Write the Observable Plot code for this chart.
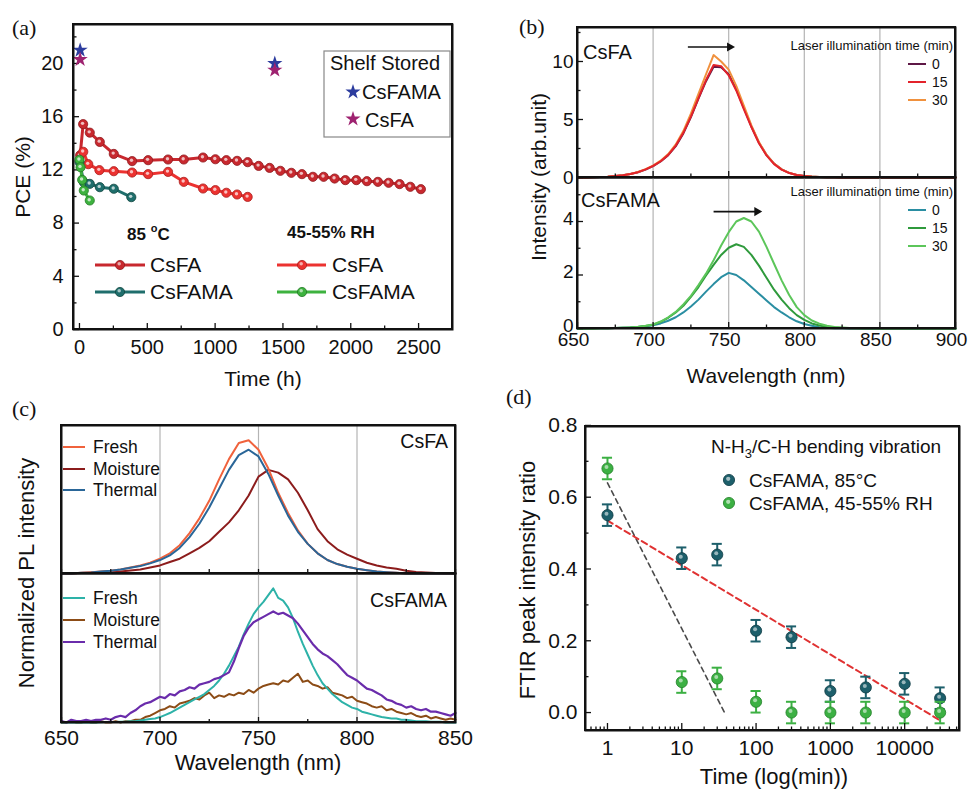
<!DOCTYPE html>
<html><head><meta charset="utf-8">
<script src="https://cdn.jsdelivr.net/npm/d3@7"></script>
<script src="https://cdn.jsdelivr.net/npm/@observablehq/plot@0.6"></script>
<style>
html,body{margin:0;padding:0;background:#fff;}
#root{position:relative;width:968px;height:790px;overflow:hidden;background:#fff;}
</style></head><body><div id="root"></div>
<script>
const FONT = "'Liberation Sans', Arial, Helvetica, sans-serif";
const SERIF = "'Liberation Serif', 'Times New Roman', serif";
const root = document.getElementById("root");

// ---------------- Panel (a) data ----------------
const tCsFA85 = [5, 27, 76, 150, 253, 388, 506, 653, 769, 911, 1002, 1083, 1162, 1240, 1321, 1402, 1481, 1562, 1640, 1721, 1800, 1881, 1960, 2041, 2119, 2200, 2279, 2360, 2439, 2517];
const pceCsFA85 = [13.1, 15.44, 14.8, 14.1, 13.2, 12.66, 12.73, 12.78, 12.78, 12.93, 12.8, 12.73, 12.68, 12.58, 12.3, 12.15, 11.93, 11.78, 11.68, 11.48, 11.48, 11.35, 11.23, 11.23, 11.15, 11.1, 11.03, 10.93, 10.73, 10.55];
const tCsFARH = [28, 65, 147, 253, 388, 506, 653, 769, 911, 1002, 1083, 1162, 1240];
const pceCsFARH = [13.36, 12.43, 11.98, 11.9, 11.8, 11.68, 11.85, 11.1, 10.6, 10.48, 10.28, 10.15, 9.97];
const tCsFAMA85 = [0, 32, 76, 150, 253, 382];
const pceCsFAMA85 = [12.6, 11.07, 10.95, 10.7, 10.58, 9.95];
const tCsFAMARH = [0, 8, 20, 32, 76];
const pceCsFAMARH = [12.76, 12.2, 11.25, 10.45, 9.7];
const tShelf = [5, 1440];
const shelfCsFAMA = [21.0, 20.0];
const shelfCsFA = [20.3, 19.5];
const ticksAx = [0, 500, 1000, 1500, 2000, 2500];
const minorAx = [250, 750, 1250, 1750, 2250];
const ticksAy = [0, 4, 8, 12, 16, 20];
const minorAy = [2, 6, 10, 14, 18, 22];

// ---------------- Panel (b) data ----------------
const wlB = [650,655,660,665,670,675,680,685,690,695,700,705,710,715,720,725,730,735,740,745,750,755,760,765,770,775,780,785,790,795,800,805,810,815,820,825,830,835,840,845,850,855,860,865,870,875,880,885,890,895,900];
const bCsFA0 = [0,0.01,0.02,0.04,0.07,0.12,0.2,0.3,0.45,0.68,
  0.98,1.38,1.92,2.7,3.8,5.2,6.8,8.3,9.55,9.5,
  8.9,7.6,6.0,4.4,3.0,1.95,1.2,0.7,0.4,0.22,
  0.13,0.08,0.05,0.03,0.02,0.01,0.01,0,0,0,
  0,0,0,0,0,0,0,0,0,0,0];
const bCsFA15 = [0,0.01,0.02,0.04,0.07,0.12,0.2,0.31,0.46,0.7,
  1.0,1.4,1.95,2.75,3.85,5.25,6.85,8.4,9.7,9.6,
  8.8,7.5,5.9,4.35,2.95,1.9,1.15,0.68,0.38,0.21,
  0.12,0.07,0.04,0.03,0.02,0.01,0.01,0,0,0,
  0,0,0,0,0,0,0,0,0,0,0];
const bCsFA30 = [0,0.01,0.02,0.04,0.07,0.12,0.2,0.31,0.47,0.72,
  1.02,1.45,2.02,2.85,4.0,5.5,7.2,8.9,10.55,10.0,
  9.3,7.9,6.2,4.5,3.05,1.95,1.2,0.7,0.4,0.22,
  0.13,0.08,0.05,0.03,0.02,0.01,0.01,0,0,0,
  0,0,0,0,0,0,0,0,0,0,0];
const bCsFAMA0 = [0,0,0.005,0.007,0.01,0.02,0.03,0.04,0.06,0.085,
  0.12,0.19,0.29,0.42,0.6,0.82,1.08,1.38,1.66,1.92,
  2.08,2.0,1.8,1.55,1.3,1.05,0.8,0.6,0.42,0.27,
  0.17,0.1,0.05,0.025,0.01,0.005,0,0,0,0,
  0,0,0,0,0,0,0,0,0,0,0];
const bCsFAMA15 = [0,0,0.003,0.005,0.01,0.015,0.025,0.04,0.06,0.095,
  0.14,0.25,0.4,0.6,0.85,1.18,1.55,1.98,2.38,2.75,
  3.02,3.15,3.05,2.75,2.35,1.9,1.45,1.08,0.76,0.5,
  0.32,0.19,0.11,0.06,0.04,0.02,0.01,0.005,0,0,
  0,0,0,0,0,0,0,0,0,0,0];
const bCsFAMA30 = [0,0,0.003,0.005,0.01,0.015,0.025,0.04,0.065,0.1,
  0.15,0.26,0.42,0.62,0.9,1.22,1.62,2.05,2.55,3.1,
  3.6,4.0,4.13,4.0,3.62,3.05,2.42,1.8,1.25,0.8,
  0.5,0.3,0.18,0.1,0.06,0.04,0.02,0.01,0.01,0.005,
  0,0,0,0,0,0,0,0,0,0,0];
const ticksBx = [650, 700, 750, 800, 850, 900];
const minorBx = [675, 725, 775, 825, 875];
const gridB = [700, 750, 800, 850];
const ticksBupY = [0, 5, 10];
const minorBupY = [2.5, 7.5, 12.5];
const ticksBloY = [0, 2, 4];
const minorBloY = [1, 3, 5];
const arrowBup = [{x1: 723, x2: 752, y: 11.25}];
const arrowBlo = [{x1: 740, x2: 770, y: 4.37}];

// ---------------- Panel (c) data ----------------
const wlC = [650,655,660,665,670,675,680,685,690,695,700,705,710,715,720,725,730,735,740,745,750,755,760,765,770,775,780,785,790,795,800,805,810,815,820,825,830,835,840,845,850];
const cFreshFA = [0,0,0.005,0.01,0.015,0.02,0.03,0.045,0.06,0.08,
  0.11,0.15,0.21,0.3,0.41,0.54,0.7,0.85,0.97,0.99,
  0.92,0.78,0.6,0.45,0.32,0.22,0.15,0.1,0.07,0.05,
  0.035,0.025,0.015,0.01,0.005,0,0,0,0,0,0];
const cThermalFA = [0,0,0.005,0.008,0.015,0.02,0.03,0.042,0.055,0.075,
  0.1,0.135,0.19,0.27,0.37,0.49,0.63,0.77,0.88,0.92,
  0.87,0.74,0.58,0.43,0.31,0.22,0.15,0.1,0.07,0.05,
  0.035,0.025,0.015,0.01,0.005,0,0,0,0,0,0];
const cMoistFA = [0,0,0.004,0.006,0.008,0.01,0.015,0.022,0.03,0.045,
  0.06,0.085,0.11,0.15,0.19,0.24,0.31,0.38,0.47,0.58,
  0.72,0.77,0.75,0.7,0.6,0.47,0.33,0.24,0.18,0.14,
  0.11,0.08,0.06,0.045,0.035,0.02,0.012,0.008,0.004,0.002,0];
const wlCf = [650,652.5,655,657.5,660,662.5,665,667.5,670,672.5,675,677.5,680,682.5,685,687.5,690,692.5,695,697.5,
  700,702.5,705,707.5,710,712.5,715,717.5,720,722.5,725,727.5,730,732.5,735,737.5,740,742.5,745,747.5,
  750,752.5,755,757.5,760,762.5,765,767.5,770,772.5,775,777.5,780,782.5,785,787.5,790,792.5,795,797.5,
  800,802.5,805,807.5,810,812.5,815,817.5,820,822.5,825,827.5,830,832.5,835,837.5,840,842.5,845,847.5,850];
const cFreshFAMA = [0,0,0,0,0,0,0,0,0.002,0.003,
  0.003,0.004,0.005,0.005,0.01,0.01,0.015,0.02,0.025,0.03,
  0.04,0.055,0.07,0.09,0.11,0.13,0.15,0.17,0.19,0.21,
  0.24,0.27,0.31,0.36,0.42,0.49,0.56,0.65,0.73,0.8,
  0.85,0.89,0.94,0.99,0.92,0.9,0.85,0.77,0.67,0.58,
  0.5,0.42,0.35,0.29,0.25,0.21,0.18,0.15,0.13,0.11,
  0.1,0.08,0.07,0.06,0.05,0.04,0.035,0.03,0.03,0.02,
  0.02,0.015,0.01,0.01,0.01,0.005,0.005,0.005,0,0,0];
const cThermalFAMA = [0.01,0,0.02,0.01,0.01,0.02,0.01,0.02,0.02,0.03,
  0.02,0.04,0.05,0.04,0.07,0.09,0.12,0.14,0.15,0.17,
  0.19,0.18,0.21,0.2,0.23,0.24,0.26,0.25,0.28,0.29,
  0.3,0.32,0.33,0.35,0.37,0.45,0.55,0.64,0.7,0.74,
  0.76,0.78,0.8,0.82,0.8,0.81,0.79,0.77,0.73,0.68,
  0.63,0.58,0.54,0.51,0.49,0.46,0.43,0.39,0.35,0.33,
  0.31,0.28,0.25,0.24,0.22,0.2,0.17,0.16,0.14,0.13,
  0.11,0.12,0.1,0.09,0.1,0.08,0.08,0.07,0.06,0.05,0.07];
const cMoistFAMA = [0,0,0.01,0,0,0.01,0,0,0.01,0,
  0,0.01,0,0.01,0.01,0.02,0.02,0.04,0.05,0.07,
  0.09,0.1,0.12,0.11,0.14,0.15,0.16,0.18,0.17,0.2,
  0.22,0.18,0.2,0.19,0.21,0.2,0.22,0.21,0.24,0.22,
  0.25,0.27,0.28,0.29,0.28,0.31,0.3,0.33,0.36,0.3,
  0.31,0.28,0.27,0.25,0.26,0.22,0.21,0.2,0.18,0.19,
  0.16,0.15,0.14,0.12,0.11,0.12,0.09,0.1,0.08,0.07,
  0.06,0.07,0.05,0.04,0.05,0.03,0.04,0.03,0.02,0.03,0.02];
const ticksCx = [650, 700, 750, 800, 850];
const minorCx = [675, 725, 775, 825];
const gridC = [700, 750, 800];

// ---------------- Panel (d) data ----------------
const timeMin = [1, 10, 30, 100, 300, 1000, 3000, 10000, 30000];
const ratio85 = [0.55, 0.43, 0.44, 0.228, 0.21, 0.06, 0.07, 0.08, 0.04];
const err85 = [0.03, 0.03, 0.03, 0.03, 0.03, 0.03, 0.03, 0.03, 0.03];
const ratioRH = [0.68, 0.085, 0.095, 0.03, 0.0, 0.0, 0.0, 0.0, 0.0];
const errRH = [0.03, 0.03, 0.03, 0.03, 0.03, 0.03, 0.03, 0.03, 0.03];
const fitRedT = [1, 30000], fitRedV = [0.535, -0.022];
const fitGreyT = [1, 37.6], fitGreyV = [0.64, 0.0];
const ticksDx = [1, 10, 100, 1000, 10000];
const ticksDy = [0, 0.2, 0.4, 0.6, 0.8];
const minorDy = [0.1, 0.3, 0.5, 0.7];

// ---------------- helpers ----------------
const zipRows = (xs, ys, extra = {}) => xs.map((x, i) => ({x, y: ys[i], ...Object.fromEntries(Object.entries(extra).map(([k, a]) => [k, a[i]]))}));

function panel(f, {x, y, marks, fontSize = 20, ml = 70, mr = 20, mt = 20, mb = 60}) {
  const svg = Plot.plot({
    width: (f.x1 - f.x0) + ml + mr, height: (f.y1 - f.y0) + mt + mb,
    marginLeft: ml, marginRight: mr, marginTop: mt, marginBottom: mb,
    x: {axis: null, ...x}, y: {axis: null, ...y},
    style: {fontFamily: FONT, fontSize: fontSize + "px", color: "#111", background: "transparent", overflow: "visible"},
    marks: [...marks, Plot.frame({stroke: "#111", strokeWidth: 2})]
  });
  svg.style.position = "absolute";
  svg.style.left = (f.x0 - ml) + "px";
  svg.style.top = (f.y0 - mt) + "px";
  root.appendChild(svg);
}
const tB = (vals, f, len) => Plot.tickX(vals, {x: d => d, insetTop: (f.y1 - f.y0) - len, stroke: "#111", strokeWidth: 1.3});
const tL = (vals, f, len) => Plot.tickY(vals, {y: d => d, insetRight: (f.x1 - f.x0) - len, stroke: "#111", strokeWidth: 1.3});
const arrowMarks = (data) => [
  Plot.link(data, {x1: "x1", x2: d => d.x2 - 1.5, y1: "y", y2: "y", stroke: "#111", strokeWidth: 1.6}),
  Plot.dot(data, {x: "x2", y: "y", symbol: "triangle", rotate: 90, r: 3.4, fill: "#111", dx: -2})
];

// ---------------- Panel (a) ----------------
const fA = {x0: 73, x1: 452, y0: 24, y1: 329};
const seriesA = [
  {rows: zipRows(tCsFA85, pceCsFA85), c: "#c8282e", s: "#8e1a1e"},
  {rows: zipRows(tCsFARH, pceCsFARH), c: "#ec3230", s: "#a8201e"},
  {rows: zipRows(tCsFAMA85, pceCsFAMA85), c: "#1f6e6c", s: "#11463f"},
  {rows: zipRows(tCsFAMARH, pceCsFAMARH), c: "#3db23f", s: "#237a25"}
];
const marksA = [tB(ticksAx, fA, 6), tB(minorAx, fA, 3.5), tL(ticksAy, fA, 6), tL(minorAy, fA, 3.5)];
for (const s of seriesA) {
  marksA.push(Plot.line(s.rows, {x: "x", y: "y", stroke: s.c, strokeWidth: 3}));
  marksA.push(Plot.dot(s.rows, {x: "x", y: "y", r: 4.6, fill: s.c, stroke: s.s, strokeWidth: 0.8}));
  marksA.push(Plot.dot(s.rows, {x: "x", y: "y", r: 1.7, fill: "#fff", fillOpacity: 0.7, dx: -0.6, dy: -0.8}));
}
marksA.push(Plot.dot(zipRows(tShelf, shelfCsFAMA), {x: "x", y: "y", symbol: "star", r: 4.8, fill: "#2c3c9e"}));
marksA.push(Plot.dot(zipRows(tShelf, shelfCsFA), {x: "x", y: "y", symbol: "star", r: 4.8, fill: "#9e2270"}));
marksA.push(Plot.axisX({ticks: ticksAx, tickSize: 0, tickPadding: 10, tickFormat: d => String(d), label: null}));
marksA.push(Plot.axisY({ticks: ticksAy, tickSize: 0, tickPadding: 10, tickFormat: d => String(d), label: null}));
panel(fA, {x: {domain: [-44, 2750]}, y: {domain: [0, 22.93]}, marks: marksA, fontSize: 20});

// ---------------- Panel (b) ----------------
const fBu = {x0: 577, x1: 955, y0: 27, y1: 177};
const fBl = {x0: 577, x1: 955, y0: 177, y1: 328};
const specB = (arr) => zipRows(wlB, arr);
panel(fBu, {
  x: {domain: [650, 900]}, y: {domain: [0, 12.93]}, fontSize: 19, mb: 20,
  marks: [
    Plot.ruleX(gridB, {x: d => d, stroke: "#b4b4b4", strokeWidth: 1.2}),
    Plot.line(specB(bCsFA0), {x: "x", y: "y", stroke: "#5e1846", strokeWidth: 2}),
    Plot.line(specB(bCsFA30), {x: "x", y: "y", stroke: "#f0913e", strokeWidth: 2}),
    Plot.line(specB(bCsFA15), {x: "x", y: "y", stroke: "#e3232b", strokeWidth: 2}),
    ...arrowMarks(arrowBup),
    tB(ticksBx, fBu, 6), tB(minorBx, fBu, 3.5), tL(ticksBupY, fBu, 6), tL(minorBupY, fBu, 3.5),
    Plot.axisY({ticks: ticksBupY, tickSize: 0, tickPadding: 4, tickFormat: d => String(d), label: null})
  ]
});
panel(fBl, {
  x: {domain: [650, 900]}, y: {domain: [0, 5.645]}, fontSize: 19, mt: 20,
  marks: [
    Plot.ruleX(gridB, {x: d => d, stroke: "#b4b4b4", strokeWidth: 1.2}),
    Plot.line(specB(bCsFAMA0), {x: "x", y: "y", stroke: "#2a8ea2", strokeWidth: 2}),
    Plot.line(specB(bCsFAMA15), {x: "x", y: "y", stroke: "#2f9a3c", strokeWidth: 2}),
    Plot.line(specB(bCsFAMA30), {x: "x", y: "y", stroke: "#5cc65a", strokeWidth: 2}),
    ...arrowMarks(arrowBlo),
    tB(ticksBx, fBl, 6), tB(minorBx, fBl, 3.5), tL(ticksBloY, fBl, 6), tL(minorBloY, fBl, 3.5),
    Plot.axisX({ticks: ticksBx, tickSize: 0, tickPadding: 4, dx: -4, tickFormat: d => String(d), label: null}),
    Plot.axisY({ticks: ticksBloY, tickSize: 0, tickPadding: 4, dy: -3, tickFormat: d => String(d), label: null})
  ]
});

// ---------------- Panel (c) ----------------
const fCu = {x0: 61, x1: 455, y0: 425, y1: 573};
const fCl = {x0: 61, x1: 455, y0: 573, y1: 722};
panel(fCu, {
  x: {domain: [650, 850]}, y: {domain: [0, 1.1]}, fontSize: 21, mb: 20, ml: 30,
  marks: [
    Plot.ruleX(gridC, {x: d => d, stroke: "#b4b4b4", strokeWidth: 1.2}),
    Plot.line(zipRows(wlC, cMoistFA), {x: "x", y: "y", stroke: "#8c1c1c", strokeWidth: 2}),
    Plot.line(zipRows(wlC, cFreshFA), {x: "x", y: "y", stroke: "#f0623c", strokeWidth: 2}),
    Plot.line(zipRows(wlC, cThermalFA), {x: "x", y: "y", stroke: "#2a6698", strokeWidth: 2}),
    tB(minorCx, fCu, 4), tB(ticksCx, fCu, 4)
  ]
});
panel(fCl, {
  x: {domain: [650, 850]}, y: {domain: [0, 1.1]}, fontSize: 21, mt: 20, ml: 30,
  marks: [
    Plot.ruleX(gridC, {x: d => d, stroke: "#b4b4b4", strokeWidth: 1.2}),
    Plot.line(zipRows(wlCf, cMoistFAMA), {x: "x", y: "y", stroke: "#8c4c16", strokeWidth: 2}),
    Plot.line(zipRows(wlCf, cFreshFAMA), {x: "x", y: "y", stroke: "#2db2a8", strokeWidth: 2}),
    Plot.line(zipRows(wlCf, cThermalFAMA), {x: "x", y: "y", stroke: "#6a2cab", strokeWidth: 2.2}),
    tB(ticksCx, fCl, 5), tB(minorCx, fCl, 3),
    Plot.axisX({ticks: ticksCx, tickSize: 0, tickPadding: 8, tickFormat: d => String(d), label: null})
  ]
});

// ---------------- Panel (d) ----------------
const fD = {x0: 585, x1: 959, y0: 426, y1: 730};
const minorDx = [];
for (const k of [0.1, 1, 10, 100, 1000, 10000]) for (let m = 2; m <= 9; m++) { const v = m * k; if (v > 0.51 && v < 54000) minorDx.push(v); }
const rows85 = zipRows(timeMin, ratio85, {e: err85});
const rowsRH = zipRows(timeMin, ratioRH, {e: errRH});
const capK = 1.17;
const errMarks = (rows, c) => [
  Plot.ruleX(rows, {x: "x", y1: d => d.y - d.e, y2: d => d.y + d.e, stroke: c, strokeWidth: 2}),
  Plot.ruleY(rows, {y: d => d.y + d.e, x1: d => d.x / capK, x2: d => d.x * capK, stroke: c, strokeWidth: 2}),
  Plot.ruleY(rows, {y: d => d.y - d.e, x1: d => d.x / capK, x2: d => d.x * capK, stroke: c, strokeWidth: 2})
];
const dotMarks = (rows, c, s) => [
  Plot.dot(rows, {x: "x", y: "y", r: 5.6, fill: c, stroke: s, strokeWidth: 0.8}),
  Plot.dot(rows, {x: "x", y: "y", r: 2, fill: "#fff", fillOpacity: 0.55, dx: -1, dy: -1.5})
];
panel(fD, {
  x: {type: "log", domain: [0.506, 54700]}, y: {domain: [-0.05, 0.797]}, fontSize: 21,
  marks: [
    Plot.line(zipRows(fitGreyT, fitGreyV), {x: "x", y: "y", stroke: "#4a4a4a", strokeWidth: 1.6, strokeDasharray: "5,4"}),
    Plot.line(zipRows(fitRedT, fitRedV), {x: "x", y: "y", stroke: "#e03232", strokeWidth: 2, strokeDasharray: "6,4"}),
    ...errMarks(rows85, "#1d5f6b"), ...dotMarks(rows85, "#1d5f6b", "#0e3a42"),
    ...errMarks(rowsRH, "#3cb043"), ...dotMarks(rowsRH, "#3cb043", "#23802a"),
    tB(ticksDx, fD, 7), tB(minorDx, fD, 3.5), tL(ticksDy, fD, 6), tL(minorDy, fD, 3.5),
    Plot.axisX({ticks: ticksDx, tickSize: 0, tickPadding: 10, tickFormat: d => String(d), label: null}),
    Plot.axisY({ticks: ticksDy, tickSize: 0, tickPadding: 8, tickFormat: d => d.toFixed(1), label: null})
  ]
});

// ---------------- overlay text, frames & legends ----------------
const ov = d3.select(root).append("svg").attr("width", 968).attr("height", 790)
  .style("position", "absolute").style("left", "0px").style("top", "0px").style("overflow", "visible");
function txt(s, x, y, o = {}) {
  const t = ov.append("text").attr("x", x).attr("y", y)
    .attr("font-family", o.family || FONT).attr("font-size", o.size || 18)
    .attr("text-anchor", o.anchor || "start").attr("fill", o.fill || "#111");
  if (o.weight) t.attr("font-weight", o.weight);
  if (o.rotate) t.attr("transform", `rotate(${o.rotate},${x},${y})`);
  if (o.dy) t.attr("dy", o.dy);
  if (s !== null) t.text(s);
  return t;
}
const boxOv = (x0, y0, x1, y1) => ov.append("rect").attr("x", x0).attr("y", y0).attr("width", x1 - x0).attr("height", y1 - y0).attr("fill", "none").attr("stroke", "#111").attr("stroke-width", 2);
boxOv(fA.x0, fA.y0, fA.x1, fA.y1);
boxOv(fBu.x0, fBu.y0, fBl.x1, fBl.y1);
boxOv(fCu.x0, fCu.y0, fCl.x1, fCl.y1);
boxOv(fD.x0, fD.y0, fD.x1, fD.y1);
const lineSw = (x1, x2, y, c, w = 2) => ov.append("line").attr("x1", x1).attr("x2", x2).attr("y1", y).attr("y2", y).attr("stroke", c).attr("stroke-width", w);
lineSw(fBu.x0, fBu.x1, fBu.y1, "#111", 2);
lineSw(fCu.x0, fCu.x1, fCu.y1, "#111", 2);
const ball = (x, y, r, c, s) => {
  ov.append("circle").attr("cx", x).attr("cy", y).attr("r", r).attr("fill", c).attr("stroke", s).attr("stroke-width", 0.8);
  ov.append("circle").attr("cx", x - 0.8).attr("cy", y - 1.2).attr("r", r * 0.38).attr("fill", "#fff").attr("fill-opacity", 0.6);
};
const star = (x, y, c) => ov.append("path").attr("d", d3.symbol(d3.symbolStar, 72)()).attr("transform", `translate(${x},${y})`).attr("fill", c);

// panel letters
txt("(a)", 12, 35, {family: SERIF, size: 22});
txt("(b)", 519, 34, {family: SERIF, size: 22});
txt("(c)", 12, 416, {family: SERIF, size: 22});
txt("(d)", 506, 404, {family: SERIF, size: 22});

// (a)
txt("PCE (%)", 23, 177, {size: 21, anchor: "middle", rotate: -90, dy: "0.35em"});
txt("Time (h)", 263, 386, {size: 21, anchor: "middle"});
ov.append("rect").attr("x", 324).attr("y", 51).attr("width", 126).attr("height", 86).attr("fill", "#fff").attr("stroke", "#888").attr("stroke-width", 1.2);
txt("Shelf Stored", 330, 70, {size: 20});
star(353, 92, "#2c3c9e"); txt("CsFAMA", 362, 99, {size: 20});
star(353, 119, "#9e2270"); txt("CsFA", 365, 127, {size: 20});
const t85 = txt(null, 127, 240, {size: 17, weight: "bold"});
t85.append("tspan").text("85 ");
t85.append("tspan").attr("font-size", 11).attr("dy", -8).text("o");
t85.append("tspan").attr("dy", 8).text("C");
txt("45-55% RH", 287, 238, {size: 17, weight: "bold"});
lineSw(95, 145, 265, "#c8282e", 3); ball(120, 265, 4.6, "#c8282e", "#8e1a1e"); txt("CsFA", 150, 272, {size: 21});
lineSw(95, 145, 292, "#1f6e6c", 3); ball(120, 292, 4.6, "#1f6e6c", "#11463f"); txt("CsFAMA", 150, 299, {size: 21});
lineSw(277, 326, 265, "#ec3230", 3); ball(302, 265, 4.6, "#ec3230", "#a8201e"); txt("CsFA", 332, 272, {size: 21});
lineSw(277, 326, 292, "#3db23f", 3); ball(302, 292, 4.6, "#3db23f", "#237a25"); txt("CsFAMA", 332, 299, {size: 21});

// (b)
txt("Intensity (arb.unit)", 539, 177, {size: 21, anchor: "middle", rotate: -90, dy: "0.35em"});
txt("Wavelength (nm)", 766, 383, {size: 21, anchor: "middle"});
txt("CsFA", 583, 59, {size: 20});
txt("CsFAMA", 581, 207, {size: 20});
txt("Laser illumination time (min)", 953, 50, {size: 13, anchor: "end"});
[["0", "#5e1846", 64], ["15", "#e3232b", 82], ["30", "#f0913e", 100]].forEach(([l, c, y]) => { lineSw(908, 926, y, c, 2); txt(l, 932, y + 5, {size: 14}); });
txt("Laser illumination time (min)", 953, 196, {size: 13, anchor: "end"});
[["0", "#2a8ea2", 210], ["15", "#2f9a3c", 228], ["30", "#5cc65a", 246]].forEach(([l, c, y]) => { lineSw(908, 926, y, c, 2); txt(l, 932, y + 5, {size: 14}); });

// (c)
txt("Normalized PL intensity", 26, 573, {size: 22, anchor: "middle", rotate: -90, dy: "0.35em"});
txt("Wavelength (nm)", 258, 770, {size: 22, anchor: "middle"});
txt("CsFA", 448, 448, {size: 19.5, anchor: "end"});
txt("CsFAMA", 447, 607, {size: 19.5, anchor: "end"});
[["Fresh", "#f0623c", 447], ["Moisture", "#8c1c1c", 469], ["Thermal", "#2a6698", 490]].forEach(([l, c, y]) => { lineSw(63, 85, y, c, 2); txt(l, 93, y + 6, {size: 17.5}); });
[["Fresh", "#2db2a8", 598], ["Moisture", "#8c4c16", 620], ["Thermal", "#6a2cab", 642]].forEach(([l, c, y]) => { lineSw(63, 85, y, c, 2); txt(l, 93, y + 6, {size: 17.5}); });

// (d)
txt("FTIR peak intensity ratio", 527, 580, {size: 22, anchor: "middle", rotate: -90, dy: "0.35em"});
txt("Time (log(min))", 774, 784, {size: 22, anchor: "middle"});
const tNH = txt(null, 711, 453, {size: 19});
tNH.append("tspan").text("N-H");
tNH.append("tspan").attr("font-size", 13).attr("dy", 5).text("3");
tNH.append("tspan").attr("dy", -5).text("/C-H bending vibration");
ball(729, 480, 5.6, "#1d5f6b", "#0e3a42"); txt("CsFAMA, 85°C", 749, 487, {size: 19});
ball(729, 503, 5.6, "#3cb043", "#23802a"); txt("CsFAMA, 45-55% RH", 749, 510, {size: 19});
</script></body></html>
